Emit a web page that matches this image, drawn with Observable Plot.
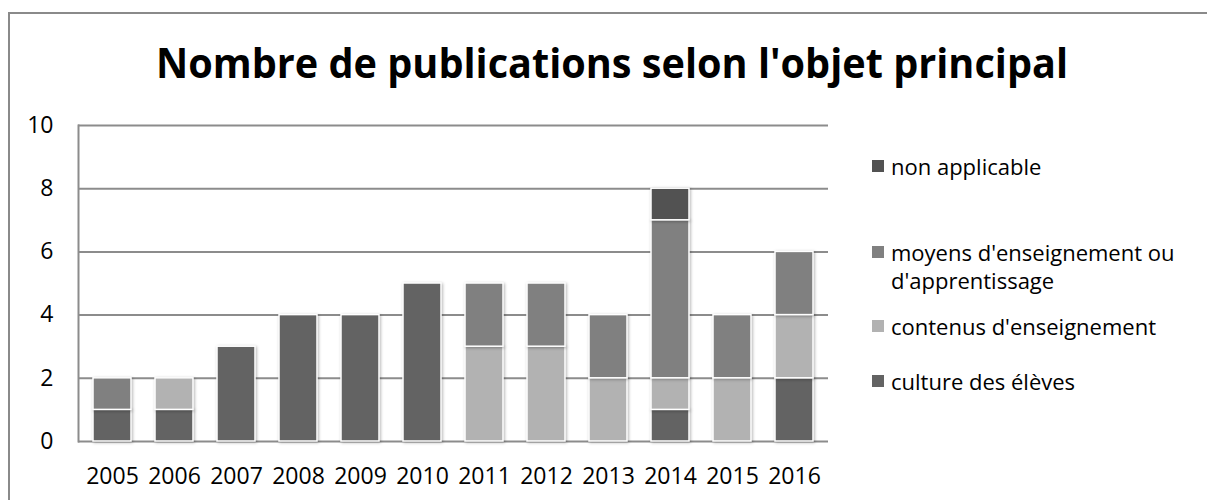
<!DOCTYPE html>
<html>
<head>
<meta charset="utf-8">
<script src="https://cdn.jsdelivr.net/npm/d3@7"></script>
<script src="https://cdn.jsdelivr.net/npm/@observablehq/plot@0.6"></script>
<style>
  html, body { margin: 0; padding: 0; background: #fff; }
  #wrap { position: relative; width: 1207px; height: 500px; overflow: hidden; font-family: "Open Sans", sans-serif; }
  #border { position: absolute; left: 8px; top: 12px; width: 1300px; height: 600px; border-left: 2px solid #8a8a8a; border-top: 2px solid #8a8a8a; }
  #chart { position: absolute; left: 0; top: 0; }
  #title { position: absolute; left: 0; top: 0; }
  .sw { position: absolute; width: 12px; height: 12px; left: 872px; }
  .lt { position: absolute; left: 891px; font-size: 22px; color: #000; white-space: nowrap; transform: translateY(-50%); }
</style>
</head>
<body>
<div id="wrap">
  <div id="border"></div>
  <div id="chart"></div>
  <svg id="title" width="1207" height="110">
    <text x="156" y="78" textLength="912" lengthAdjust="spacingAndGlyphs" font-family="Open Sans" font-weight="bold" font-size="42" fill="#000">Nombre de publications selon l'objet principal</text>
  </svg>
  <div id="legend"></div>
</div>
<script>
const years = ["2005","2006","2007","2008","2009","2010","2011","2012","2013","2014","2015","2016"];
const categories = ["culture des élèves", "contenus d'enseignement", "moyens d'enseignement ou d'apprentissage", "non applicable"];
const cultureDesEleves = [1, 1, 3, 4, 4, 5, 0, 0, 0, 1, 0, 2];
const contenusEnseignement = [0, 1, 0, 0, 0, 0, 3, 3, 2, 1, 2, 2];
const moyensEnseignement = [1, 0, 0, 0, 0, 0, 2, 2, 2, 5, 2, 2];
const nonApplicable = [0, 0, 0, 0, 0, 0, 0, 0, 0, 1, 0, 0];
const colors = ["#636363", "#b2b2b2", "#808080", "#525252"];
const yTicks = [0, 2, 4, 6, 8, 10];

const seriesValues = [cultureDesEleves, contenusEnseignement, moyensEnseignement, nonApplicable];
const rows = [];
categories.forEach((c, ci) => {
  years.forEach((y, yi) => rows.push({year: y, category: c, value: seriesValues[ci][yi]}));
});

const chart = Plot.plot({
  width: 1207,
  height: 500,
  marginLeft: 78,
  marginRight: 379,
  marginTop: 125,
  marginBottom: 59,
  style: {fontFamily: "Open Sans", fontSize: "23px", color: "#000", background: "transparent"},
  x: {domain: years, paddingInner: 0.38, paddingOuter: 0.19, label: null, tickSize: 0, tickPadding: 26},
  y: {domain: [0, 10], ticks: yTicks, label: null, tickSize: 0, tickPadding: 25},
  color: {domain: categories, range: colors},
  marks: [
    Plot.ruleY(yTicks, {stroke: "#8c8c8c", strokeWidth: 2}),
    Plot.frame({anchor: "left", stroke: "#8c8c8c", strokeWidth: 2}),
    Plot.barY(rows.filter(d => d.value > 0), {
      x: "year", y: "value", fill: "category", order: categories,
      stroke: "#fff", strokeWidth: 1.5
    })
  ]
});
chart.querySelectorAll("g[aria-label='bar'] rect").forEach(r => r.style.filter = "drop-shadow(1px 1px 1.5px rgba(0,0,0,0.3))");
document.getElementById("chart").appendChild(chart);

// legend (top to bottom: reversed series order)
const legendItems = [
  {i: 3, lines: ["non applicable"], y: 166},
  {i: 2, lines: ["moyens d'enseignement ou", "d'apprentissage"], y: 252},
  {i: 1, lines: ["contenus d'enseignement"], y: 326},
  {i: 0, lines: ["culture des élèves"], y: 381}
];
const leg = document.getElementById("legend");
legendItems.forEach(it => {
  const sw = document.createElement("div");
  sw.className = "sw";
  sw.style.top = (it.y - 6) + "px";
  sw.style.background = colors[it.i];
  leg.appendChild(sw);
  it.lines.forEach((line, k) => {
    const t = document.createElement("div");
    t.className = "lt";
    t.style.top = (it.y + k * 28) + "px";
    t.textContent = line;
    leg.appendChild(t);
  });
});
</script>
</body>
</html>
